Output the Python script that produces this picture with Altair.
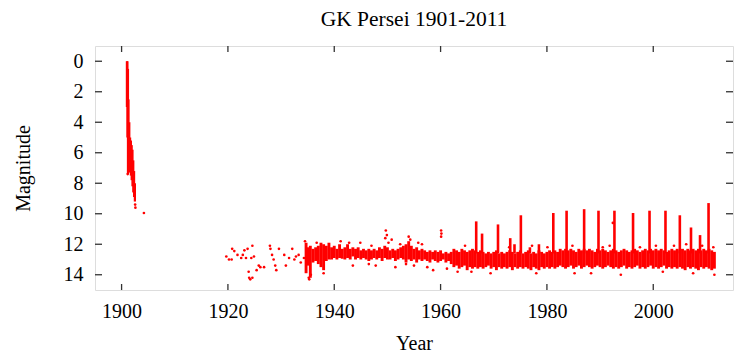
import altair as alt
import pandas as pd

# ---------------- data ----------------
X_TICKS = [1900, 1920, 1940, 1960, 1980, 2000]
Y_TICKS = [0, 2, 4, 6, 8, 10, 12, 14]

# 1901 nova decline: dense columns (year, brightest mag, faintest mag)
DECLINE_YEAR = [1901.0, 1901.1, 1901.2, 1901.3, 1901.45, 1901.6, 1901.75,
                1901.9, 1902.05, 1902.2, 1902.35, 1902.5]
DECLINE_BRIGHT = [0.0, 0.0, 0.5, 2.5, 4.0, 5.0, 5.2, 5.5, 5.8, 6.5, 7.2, 8.0]
DECLINE_FAINT = [3.0, 5.0, 7.4, 7.0, 7.0, 7.3, 7.5, 7.8, 8.2, 8.6, 8.9, 9.2]

# quiescent band after 1934: dense columns
BAND_YEAR = [
    1934.7, 1935.0, 1935.5, 1936.0, 1936.5, 1937.0, 1937.5, 1938.0, 1938.5, 1939.0,
    1939.5, 1940.0, 1940.5, 1941.0, 1941.5, 1942.0, 1942.5, 1943.0, 1943.5, 1944.0,
    1944.5, 1945.0, 1945.5, 1946.0, 1946.5, 1947.0, 1947.5, 1948.0, 1948.5, 1949.0,
    1949.5, 1950.0, 1950.5, 1951.0, 1951.5, 1952.0, 1952.5, 1953.0, 1953.5, 1954.0,
    1954.5, 1955.0, 1955.5, 1956.0, 1956.5, 1957.0, 1957.5, 1958.0, 1958.5, 1959.0,
    1959.5, 1960.0, 1960.5, 1961.0, 1961.5, 1962.0, 1962.5, 1963.0, 1963.5, 1964.0,
    1964.5, 1965.0, 1965.5, 1966.0, 1966.5, 1967.0, 1967.5, 1968.0, 1968.5, 1969.0,
    1969.5, 1970.0, 1970.5, 1971.0, 1971.5, 1972.0, 1972.5, 1973.0, 1973.5, 1974.0,
    1974.5, 1975.0, 1975.5, 1976.0, 1976.5, 1977.0, 1977.5, 1978.0, 1978.5, 1979.0,
    1979.5, 1980.0, 1980.5, 1981.0, 1981.5, 1982.0, 1982.5, 1983.0, 1983.5, 1984.0,
    1984.5, 1985.0, 1985.5, 1986.0, 1986.5, 1987.0, 1987.5, 1988.0, 1988.5, 1989.0,
    1989.5, 1990.0, 1990.5, 1991.0, 1991.5, 1992.0, 1992.5, 1993.0, 1993.5, 1994.0,
    1994.5, 1995.0, 1995.5, 1996.0, 1996.5, 1997.0, 1997.5, 1998.0, 1998.5, 1999.0,
    1999.5, 2000.0, 2000.5, 2001.0, 2001.5, 2002.0, 2002.5, 2003.0, 2003.5, 2004.0,
    2004.5, 2005.0, 2005.5, 2006.0, 2006.5, 2007.0, 2007.5, 2008.0, 2008.5, 2009.0,
    2009.5, 2010.0, 2010.5, 2011.0, 2011.5]
BAND_BRIGHT = [
    11.9, 12.2, 12.1, 12.3, 12.2, 12.1, 11.9, 12.0, 12.1, 11.9,
    12.2, 12.1, 12.3, 12.0, 12.3, 12.2, 12.0, 12.3, 12.2, 12.3,
    12.2, 12.4, 12.3, 12.4, 12.3, 12.4, 12.3, 12.4, 12.2, 12.3,
    12.1, 12.2, 12.4, 12.3, 12.4, 12.3, 12.2, 12.1, 12.0, 11.8,
    12.1, 12.3, 12.2, 12.4, 12.3, 12.4, 12.5, 12.4, 12.5, 12.4,
    12.5, 12.4, 12.6, 12.5, 12.6, 12.5, 12.3, 12.4, 12.5, 12.3,
    12.4, 12.5, 12.4, 12.3, 12.4, 12.5, 12.4, 12.5, 12.6, 12.5,
    12.6, 12.5, 12.4, 12.6, 12.5, 12.6, 12.5, 12.4, 12.5, 12.6,
    12.5, 12.4, 12.6, 12.5, 12.4, 12.6, 12.5, 12.6, 12.4, 12.5,
    12.6, 12.5, 12.4, 12.5, 12.4, 12.5, 12.3, 12.4, 12.3, 12.4,
    12.3, 12.4, 12.5, 12.3, 12.4, 12.3, 12.4, 12.3, 12.4, 12.5,
    12.3, 12.4, 12.3, 12.4, 12.5, 12.4, 12.3, 12.4, 12.5, 12.4,
    12.3, 12.4, 12.5, 12.4, 12.3, 12.4, 12.5, 12.4, 12.3, 12.4,
    12.3, 12.4, 12.3, 12.4, 12.3, 12.4, 12.5, 12.4, 12.3, 12.4,
    12.3, 12.4, 12.3, 12.4, 12.3, 12.4, 12.3, 12.4, 12.3, 12.4,
    12.3, 12.4, 12.3, 12.4, 12.5]
BAND_FAINT = [
    13.9, 13.4, 14.2, 13.2, 13.1, 13.3, 13.5, 13.7, 13.1, 13.0,
    13.0, 12.9, 13.0, 12.9, 12.95, 13.0, 12.9, 13.0, 12.8, 13.0,
    12.9, 13.0, 12.9, 13.0, 13.1, 13.0, 12.9, 13.0, 12.9, 13.1,
    12.9, 13.0, 13.0, 12.9, 13.1, 13.0, 12.9, 13.0, 13.2, 13.0,
    13.1, 13.0, 13.2, 13.0, 13.1, 13.0, 13.1, 13.2, 13.0, 13.1,
    13.2, 13.1, 13.0, 13.2, 13.1, 13.3, 13.5, 13.4, 13.6, 13.5,
    13.4, 13.7, 13.5, 13.6, 13.5, 13.6, 13.5, 13.6, 13.5, 13.4,
    13.6, 13.5, 13.7, 13.5, 13.6, 13.5, 13.6, 13.5, 13.7, 13.5,
    13.6, 13.5, 13.6, 13.5, 13.6, 13.7, 13.5, 13.6, 13.7, 13.5,
    13.6, 13.5, 13.6, 13.5, 13.6, 13.5, 13.4, 13.5, 13.6, 13.5,
    13.4, 13.6, 13.5, 13.4, 13.6, 13.5, 13.4, 13.5, 13.6, 13.5,
    13.4, 13.5, 13.6, 13.5, 13.4, 13.5, 13.6, 13.5, 13.6, 13.5,
    13.4, 13.6, 13.5, 13.6, 13.5, 13.4, 13.6, 13.5, 13.6, 13.5,
    13.4, 13.6, 13.5, 13.6, 13.5, 13.4, 13.6, 13.5, 13.6, 13.5,
    13.6, 13.5, 13.6, 13.7, 13.5, 13.6, 13.5, 13.6, 13.7, 13.5,
    13.6, 13.5, 13.6, 13.7, 13.6]

# dwarf-nova outbursts: (year, peak mag, base mag)
BURST_YEAR = [1966.7, 1967.8, 1970.8, 1973.1, 1973.9, 1975.1, 1976.8, 1978.5,
              1981.2, 1983.7, 1987.0, 1989.7, 1992.7, 1996.2, 1999.3, 2002.3,
              2005.0, 2007.1, 2008.8, 2010.4]
BURST_PEAK = [10.5, 11.3, 10.7, 11.6, 12.0, 10.1, 12.2, 12.0,
              9.95, 9.8, 9.7, 9.8, 9.8, 9.95, 9.8, 9.8,
              10.1, 10.9, 11.4, 9.3]
BURST_BASE = [12.6, 12.6, 12.6, 12.6, 12.6, 12.6, 12.6, 12.6,
              12.6, 12.6, 12.6, 12.6, 12.6, 12.6, 12.6, 12.6,
              12.6, 12.6, 12.6, 12.6]

# individual scattered observations
PT_YEAR = [
    1901.15, 1902.55, 1902.6, 1904.2,
    1919.7, 1920.2, 1920.7, 1920.8, 1921.2, 1921.8, 1922.5, 1922.8, 1923.1, 1923.4,
    1923.7, 1923.9, 1924.0, 1924.2, 1924.6, 1924.4, 1924.6, 1924.9, 1925.4, 1925.8,
    1926.1, 1926.8, 1927.9, 1928.0, 1928.3, 1928.6, 1928.9, 1929.1, 1929.6, 1930.6,
    1930.9, 1931.5, 1932.1, 1932.5, 1932.8, 1933.3, 1933.7, 1934.3,
    1934.5, 1935.2, 1935.3, 1935.6, 1936.7, 1938.0, 1941.2, 1942.8, 1943.5, 1944.9,
    1946.5, 1947.0, 1947.8, 1949.7, 1949.9, 1949.6, 1950.2, 1950.8, 1951.5, 1952.4,
    1953.5, 1954.0, 1954.3, 1955.0, 1955.8, 1956.5, 1957.5, 1958.6, 1960.1, 1960.15,
    1960.1, 1961.2, 1963.2, 1964.6, 1965.8, 1969.4, 1972.9, 1977.2, 1978.0, 1980.1,
    1985.2, 1984.8, 1988.3, 1990.5, 1991.8, 1992.4, 1993.9, 1997.5, 2000.5, 2001.8,
    2003.9, 2006.2, 2007.5, 2009.2, 2011.5, 2011.3]
PT_MAG = [
    7.4, 9.4, 9.6, 9.95,
    12.8, 13.0, 13.0, 12.3, 12.45, 12.7, 12.9, 12.7, 12.4, 12.9,
    12.3, 13.8, 14.2, 14.3, 14.2, 12.9, 12.1, 12.8, 13.7, 13.4,
    13.5, 13.5, 12.1, 12.3, 12.7, 13.0, 13.4, 13.7, 12.3, 12.7,
    13.4, 12.9, 12.3, 13.0, 12.8, 12.7, 13.2, 12.9,
    11.8, 14.2, 14.3, 14.0, 11.9, 13.9, 11.8, 11.9, 13.4, 11.9,
    13.3, 12.1, 13.4, 11.1, 11.4, 11.6, 11.9, 11.7, 13.5, 12.0,
    13.3, 11.5, 11.7, 13.4, 11.9, 12.0, 13.5, 13.7, 11.1, 11.3,
    11.5, 13.6, 13.8, 12.1, 13.8, 13.9, 12.2, 12.1, 13.9, 12.2,
    13.9, 12.1, 13.9, 12.2, 12.1, 10.6, 14.0, 12.2, 12.1, 13.8,
    12.1, 12.0, 13.9, 12.1, 14.0, 12.2]

# ---------------- chart ----------------
RED = "#ff0000"
FRAME = "#333333"
FONT = "Liberation Serif"
XDOM = [1895, 2015]
YDOM = [-1, 15]

x_scale = alt.Scale(domain=XDOM, nice=False, zero=False)
y_scale = alt.Scale(domain=YDOM, nice=False, zero=False, reverse=True)

x_axis = alt.Axis(values=X_TICKS, format="d", ticks=False, tickSize=0, domain=False,
                  grid=False, labelFontSize=20, labelPadding=11, labelColor="black",
                  titleFontSize=20, titlePadding=12, titleColor="black",
                  labelFont=FONT, titleFont=FONT, titleFontWeight="normal")
y_axis = alt.Axis(values=Y_TICKS, format="d", ticks=False, tickSize=0, domain=False,
                  grid=False, labelFontSize=20, labelPadding=12, labelColor="black",
                  titleFontSize=20, titlePadding=30, titleColor="black",
                  labelFont=FONT, titleFont=FONT, titleFontWeight="normal")


def X(field):
    return alt.X(f"{field}:Q", scale=x_scale, axis=x_axis, title="Year")


def Y(field):
    return alt.Y(f"{field}:Q", scale=y_scale, axis=y_axis, title="Magnitude")


decline_df = pd.DataFrame({"year": DECLINE_YEAR, "mag": DECLINE_BRIGHT, "mag2": DECLINE_FAINT})
band_df = pd.DataFrame({"year": BAND_YEAR, "mag": BAND_BRIGHT, "mag2": BAND_FAINT})
burst_df = pd.DataFrame({"year": BURST_YEAR, "mag": BURST_PEAK, "mag2": BURST_BASE})
pts_df = pd.DataFrame({"year": PT_YEAR, "mag": PT_MAG})
xt_df = pd.DataFrame({"year": X_TICKS})
yt_df = pd.DataFrame({"mag": Y_TICKS})

H = 244
W = 638

decline = alt.Chart(decline_df).mark_rule(color=RED, strokeWidth=2.2).encode(
    x=X("year"), y=Y("mag"), y2="mag2")
band = alt.Chart(band_df).mark_rule(color=RED, strokeWidth=2.9).encode(
    x=X("year"), y=Y("mag"), y2="mag2")
burst = alt.Chart(burst_df).mark_rule(color=RED, strokeWidth=2.6).encode(
    x=X("year"), y=Y("mag"), y2="mag2")
pts = alt.Chart(pts_df).mark_circle(color=RED, size=7, opacity=1).encode(
    x=X("year"), y=Y("mag"))

xt_bottom = alt.Chart(xt_df).mark_rule(color=FRAME, strokeWidth=1.3).encode(
    x=X("year"), y=alt.value(H), y2=alt.value(H - 6))
xt_top = alt.Chart(xt_df).mark_rule(color=FRAME, strokeWidth=1.3).encode(
    x=X("year"), y=alt.value(0), y2=alt.value(6))
yt_left = alt.Chart(yt_df).mark_rule(color=FRAME, strokeWidth=1.3).encode(
    y=Y("mag"), x=alt.value(0), x2=alt.value(7))
yt_right = alt.Chart(yt_df).mark_rule(color=FRAME, strokeWidth=1.3).encode(
    y=Y("mag"), x=alt.value(W), x2=alt.value(W - 7))

chart = alt.layer(
    decline, band, burst, pts, xt_bottom, xt_top, yt_left, yt_right
).properties(
    width=W, height=H,
    padding={"left": 5, "top": 0, "right": 5, "bottom": 5},
    title=alt.TitleParams("GK Persei 1901-2011", font=FONT, fontSize=21.5,
                          fontWeight="normal", color="black", anchor="middle",
                          offset=15),
).configure_view(
    stroke=FRAME, strokeWidth=1.6
).configure(
    background="white"
)

chart.save("out.html", embed_options={"renderer": "svg", "actions": False})
